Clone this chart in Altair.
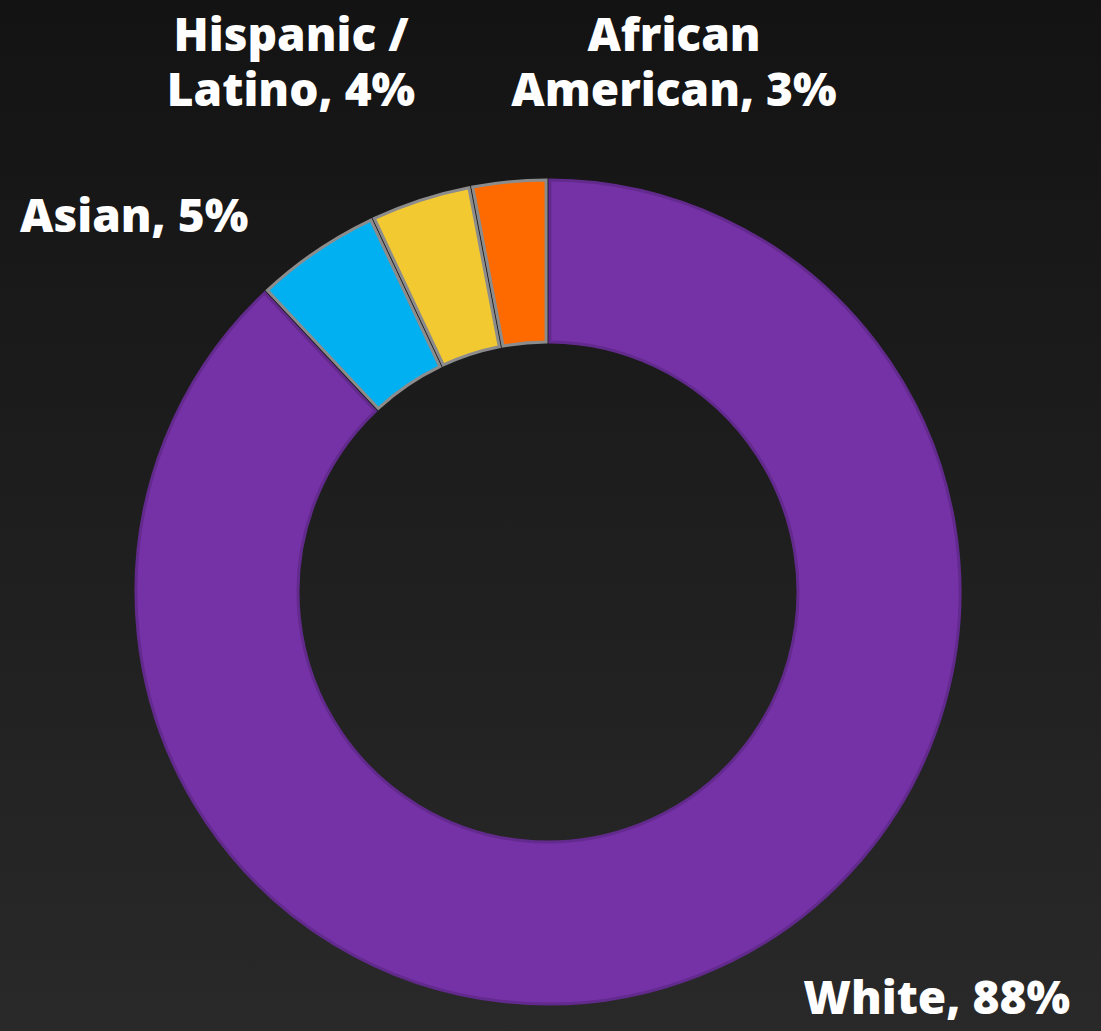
import altair as alt
import pandas as pd

categories = ["White", "Asian", "Hispanic / Latino", "African American"]
values = [88, 5, 4, 3]
colors = ["#7532A6", "#00B0F0", "#F3C932", "#FF6A00"]
borders = ["#632A8E", "#8C8C8C", "#8C8C8C", "#8C8C8C"]
label_texts = ["White, 88%", "Asian, 5%", "Hispanic /\nLatino, 4%", "African\nAmerican, 3%"]

df = pd.DataFrame({"category": categories, "value": values, "order": list(range(len(categories)))})

W, H = 1101, 1031
CX, CY = 548, 592
FONT = "Open Sans"

bg = alt.Chart(pd.DataFrame({"a": [0]})).mark_rect(
    fill=alt.Gradient(
        gradient="linear",
        stops=[alt.GradientStop(color="#131313", offset=0),
               alt.GradientStop(color="#292929", offset=1)],
        x1=0, x2=0, y1=0, y2=1,
    )
).encode(x=alt.value(0), x2=alt.value(W), y=alt.value(0), y2=alt.value(H))

arcs = alt.Chart(df).mark_arc(
    innerRadius=250, outerRadius=412, strokeWidth=3, padAngle=0.008
).encode(
    theta=alt.Theta("value:Q", stack=True),
    order=alt.Order("order:Q"),
    color=alt.Color("category:N", scale=alt.Scale(domain=categories, range=colors), legend=None),
    stroke=alt.Stroke("category:N", scale=alt.Scale(domain=categories, range=borders), legend=None),
    x=alt.value(CX),
    y=alt.value(CY),
)


def label(text, x, y, align):
    return alt.Chart(pd.DataFrame({"t": [text]})).mark_text(
        font=FONT, fontWeight=800, fontSize=46, color="white",
        align=align, baseline="alphabetic", lineBreak="\n", lineHeight=55,
    ).encode(text="t:N", x=alt.value(x), y=alt.value(y))


labels = [
    label(label_texts[0], 1070, 1014, "right"),
    label(label_texts[1], 20, 232, "left"),
    label(label_texts[2], 291, 51, "center"),
    label(label_texts[3], 674, 51, "center"),
]

chart = alt.layer(bg, arcs, *labels).properties(
    width=W, height=H, padding=0, autosize="none", background="#1e1e1e"
).configure_view(stroke=None)

chart.save("out.html", embed_options={"renderer": "svg", "actions": False})
